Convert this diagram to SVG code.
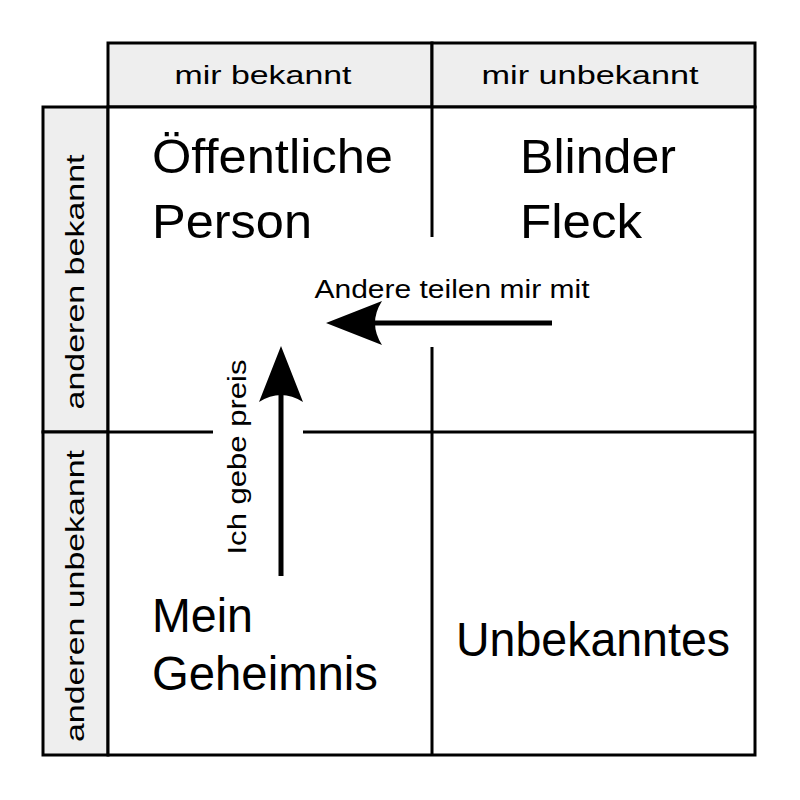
<svg xmlns="http://www.w3.org/2000/svg" width="800" height="800" viewBox="0 0 800 800">
<style>
.c{stroke:#000;stroke-width:3;}
.h{fill:#eeeeee;}
.t{font-family:"Liberation Sans",Arial,sans-serif;fill:#000;}
.s{font-size:26px;text-anchor:middle;}
.b{font-size:48px;}
</style>
<rect width="800" height="800" fill="#fff"/>
<g id="header">
<rect class="c h" x="108" y="43" width="324" height="64"/>
<rect class="c h" x="432" y="43" width="323" height="64"/>
<text class="t s" x="263" y="84" textLength="177" lengthAdjust="spacingAndGlyphs">mir bekannt</text>
<text class="t s" x="590" y="84" textLength="217" lengthAdjust="spacingAndGlyphs">mir unbekannt</text>
</g>
<g id="sideheader">
<rect class="c h" x="43" y="107" width="65" height="325"/>
<rect class="c h" x="43" y="432" width="65" height="323"/>
<text class="t s" transform="translate(84,282) rotate(-90)" textLength="255" lengthAdjust="spacingAndGlyphs">anderen bekannt</text>
<text class="t s" transform="translate(84,596) rotate(-90)" textLength="292" lengthAdjust="spacingAndGlyphs">anderen unbekannt</text>
</g>
<g id="grid">
<rect class="c" x="108" y="107" width="647" height="648" fill="#fff"/>
<line class="c" x1="432" y1="107" x2="432" y2="237"/>
<line class="c" x1="432" y1="347" x2="432" y2="755"/>
<line class="c" x1="108" y1="432" x2="213" y2="432"/>
<line class="c" x1="303" y1="432" x2="755" y2="432"/>
</g>
<g id="quadrants">
<text class="t b" x="152" y="173" textLength="241" lengthAdjust="spacingAndGlyphs">Öffentliche</text>
<text class="t b" x="152" y="238" textLength="160" lengthAdjust="spacingAndGlyphs">Person</text>
<text class="t b" x="520" y="173" textLength="156" lengthAdjust="spacingAndGlyphs">Blinder</text>
<text class="t b" x="520" y="238" textLength="122" lengthAdjust="spacingAndGlyphs">Fleck</text>
<text class="t b" x="152" y="632" textLength="101" lengthAdjust="spacingAndGlyphs">Mein</text>
<text class="t b" x="152" y="690" textLength="226" lengthAdjust="spacingAndGlyphs">Geheimnis</text>
<text class="t b" x="456" y="656" textLength="274" lengthAdjust="spacingAndGlyphs">Unbekanntes</text>
</g>
<g id="connectors">
<line x1="552" y1="323" x2="340" y2="323" stroke="#000" stroke-width="5"/>
<path d="M326,323 L382,301 Q368,323 382,345 Z" fill="#000"/>
<line x1="281" y1="576" x2="281" y2="360" stroke="#000" stroke-width="5"/>
<path d="M281,346 L303,402 Q281,388 259,402 Z" fill="#000"/>
<text class="t s" x="452" y="298" textLength="275" lengthAdjust="spacingAndGlyphs">Andere teilen mir mit</text>
<text class="t s" transform="translate(246,457) rotate(-90)" textLength="195" lengthAdjust="spacingAndGlyphs">Ich gebe preis</text>
</g>
</svg>
